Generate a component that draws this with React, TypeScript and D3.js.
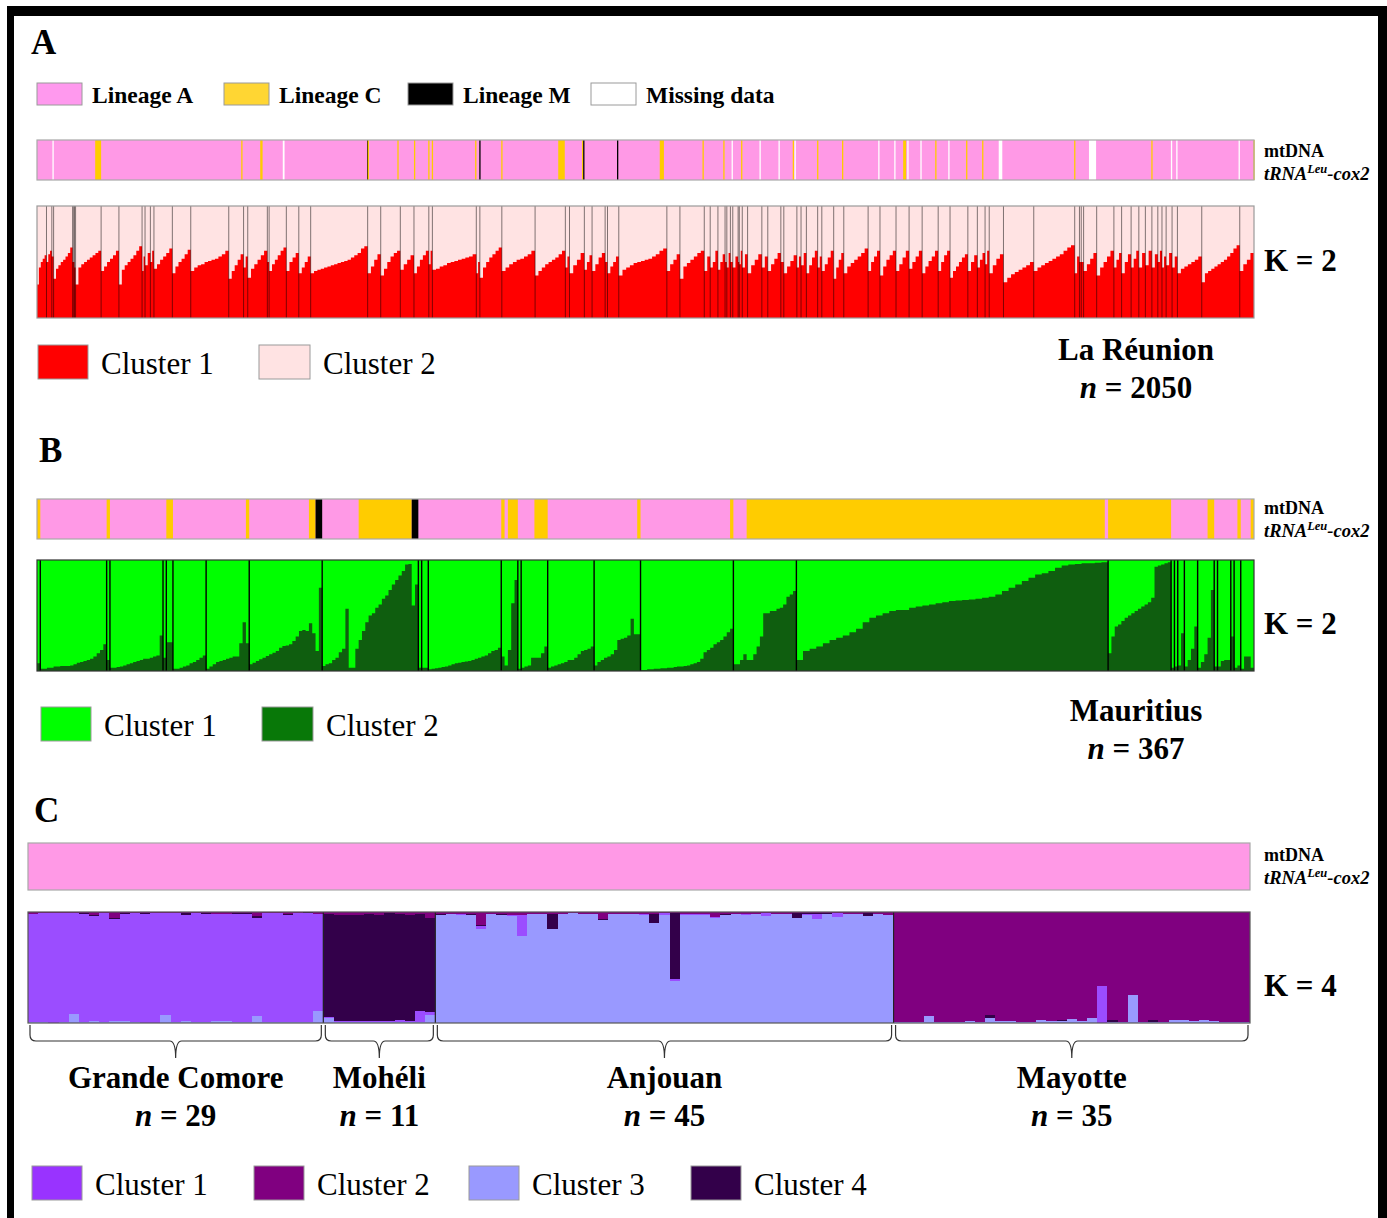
import React from 'react';
import * as d3 from 'd3';

const W = 1387, H = 1218;
const FONT = '"Liberation Serif", "Times New Roman", serif';

// ---------- Legends ----------
const LINEAGE_LABELS = ['Lineage A', 'Lineage C', 'Lineage M', 'Missing data'];
const LINEAGE_SWATCH = ['#FF99EE', '#FFD633', '#000000', '#FFFFFF'];
const MT_COLORS: Record<string, string> = { A: '#FF99E6', C: '#FFCC00', M: '#000000', X: '#FFFFFF' };

// ---------- Panel A : La Réunion (n = 2050) ----------
const A_POP_SIZES = [16, 9, 3, 32, 2, 1, 2, 43, 30, 39, 5, 9, 6, 31, 31, 64, 25, 7, 33, 3, 29, 21, 20, 96, 22, 33, 23, 25, 6, 74, 6, 37, 56, 51, 7, 25, 13, 22, 4, 19, 81, 22, 41, 10, 13, 12, 3, 6, 4, 9, 2, 5, 9, 24, 10, 22, 5, 22, 7, 9, 19, 7, 20, 17, 41, 20, 27, 22, 22, 27, 20, 30, 16, 13, 7, 24, 51, 69, 8, 3, 4, 22, 29, 13, 16, 13, 11, 11, 10, 7, 7, 10, 9, 41, 64, 24];
// Cluster 1 (red) membership, sorted within each sampling site
const A_Q1: number[][] = [
  [0.30, 0.45, 0.5, 0.53, 0.56], [0.5, 0.57, 0.6], [0.55], [0.35, 0.44, 0.47, 0.5, 0.52, 0.55, 0.58, 0.63],
  [0.5], [0.5], [0.45],
  [0.3, 0.45, 0.48, 0.5, 0.52, 0.54, 0.56, 0.58, 0.6], [0.42, 0.46, 0.5, 0.53, 0.56, 0.6], [0.3, 0.43, 0.47, 0.5, 0.53, 0.56, 0.6, 0.64],
  [0.42, 0.55], [0.47, 0.58], [0.5, 0.6], [0.44, 0.48, 0.52, 0.55, 0.58, 0.62], [0.4, 0.46, 0.5, 0.53, 0.57, 0.61],
  [0.42, 0.45, 0.47, 0.48, 0.5, 0.51, 0.52, 0.53, 0.55, 0.57, 0.6], [0.35, 0.42, 0.47, 0.52, 0.57], [0.45, 0.55],
  [0.36, 0.44, 0.48, 0.52, 0.56, 0.6], [0.5], [0.42, 0.48, 0.52, 0.56, 0.6, 0.63], [0.42, 0.5, 0.54, 0.58], [0.4, 0.45, 0.5, 0.55],
  [0.4, 0.42, 0.43, 0.44, 0.45, 0.46, 0.47, 0.48, 0.49, 0.5, 0.51, 0.52, 0.54, 0.56, 0.58, 0.62, 0.64],
  [0.4, 0.46, 0.52, 0.57], [0.38, 0.44, 0.5, 0.55, 0.58, 0.6], [0.43, 0.48, 0.52, 0.56], [0.4, 0.46, 0.52, 0.56, 0.6], [0.48, 0.6],
  [0.43, 0.44, 0.46, 0.47, 0.49, 0.5, 0.51, 0.52, 0.53, 0.54, 0.55, 0.57], [0.4, 0.5], [0.36, 0.45, 0.5, 0.54, 0.57, 0.6, 0.63],
  [0.42, 0.45, 0.48, 0.5, 0.52, 0.53, 0.55, 0.57, 0.6], [0.38, 0.42, 0.45, 0.48, 0.5, 0.52, 0.54, 0.57, 0.6], [0.45, 0.55],
  [0.4, 0.47, 0.52, 0.58], [0.43, 0.5, 0.56], [0.42, 0.48, 0.54, 0.58], [0.5], [0.4, 0.46, 0.5, 0.55],
  [0.38, 0.43, 0.45, 0.47, 0.49, 0.5, 0.51, 0.52, 0.53, 0.55, 0.57, 0.6, 0.62], [0.42, 0.48, 0.52, 0.57],
  [0.35, 0.46, 0.49, 0.52, 0.55, 0.58, 0.6], [0.42, 0.55], [0.45, 0.5, 0.6], [0.43, 0.5, 0.57], [0.5], [0.45, 0.58], [0.5],
  [0.45, 0.55], [0.5], [0.48, 0.6], [0.45, 0.57], [0.4, 0.47, 0.52, 0.57], [0.45, 0.55], [0.42, 0.48, 0.53, 0.58], [0.5],
  [0.4, 0.46, 0.51, 0.56], [0.45, 0.55], [0.47, 0.58], [0.4, 0.47, 0.54, 0.6], [0.45, 0.55], [0.42, 0.48, 0.54, 0.6],
  [0.35, 0.45, 0.52, 0.58], [0.4, 0.46, 0.49, 0.52, 0.55, 0.58, 0.62], [0.42, 0.5, 0.55, 0.6], [0.38, 0.46, 0.52, 0.56, 0.6],
  [0.42, 0.48, 0.54, 0.6], [0.44, 0.5, 0.55, 0.6], [0.4, 0.46, 0.51, 0.55, 0.6], [0.42, 0.5, 0.56, 0.6],
  [0.36, 0.42, 0.46, 0.5, 0.54, 0.57], [0.42, 0.5, 0.56], [0.45, 0.52, 0.58], [0.48, 0.6], [0.4, 0.47, 0.53, 0.57],
  [0.32, 0.36, 0.39, 0.41, 0.43, 0.45, 0.47, 0.5], [0.42, 0.45, 0.47, 0.49, 0.51, 0.53, 0.55, 0.57, 0.6, 0.63, 0.65],
  [0.4, 0.55], [0.5], [0.5], [0.42, 0.48, 0.53, 0.58], [0.38, 0.45, 0.5, 0.55, 0.6], [0.45, 0.52, 0.58], [0.4, 0.5, 0.57],
  [0.45, 0.53, 0.6], [0.45, 0.58], [0.47, 0.6], [0.45, 0.57], [0.5, 0.6], [0.45, 0.55], [0.47, 0.58], [0.45, 0.55],
  [0.4, 0.44, 0.46, 0.48, 0.5, 0.52, 0.55], [0.32, 0.4, 0.42, 0.44, 0.46, 0.48, 0.5, 0.52, 0.55, 0.58, 0.62, 0.65], [0.42, 0.48, 0.52, 0.58],
];
// non-"Lineage A" runs in the mtDNA strip: [first individual, count, lineage]
const A_MT_RUNS: [number, number, string][] = [
  [26, 1, 'X'], [98, 10, 'C'], [344, 1, 'C'], [376, 4, 'C'], [414, 3, 'X'], [556, 1, 'M'], [557, 1, 'C'], [607, 2, 'C'],
  [635, 1, 'C'], [659, 1, 'C'], [665, 1, 'C'], [738, 1, 'C'], [745, 1, 'M'], [782, 1, 'C'], [878, 11, 'C'], [918, 2, 'C'],
  [920, 1, 'M'], [977, 1, 'M'], [1049, 7, 'C'], [1121, 1, 'C'], [1156, 1, 'C'], [1170, 1, 'X'], [1186, 1, 'C'], [1217, 2, 'X'],
  [1249, 2, 'X'], [1273, 2, 'C'], [1276, 1, 'X'], [1314, 1, 'C'], [1356, 1, 'C'], [1417, 2, 'X'], [1444, 2, 'X'], [1459, 5, 'C'],
  [1466, 1, 'X'], [1488, 2, 'X'], [1513, 2, 'C'], [1535, 2, 'X'], [1565, 1, 'C'], [1592, 2, 'C'], [1620, 6, 'X'], [1747, 1, 'C'],
  [1772, 12, 'X'], [1877, 1, 'C'], [1910, 1, 'X'], [1919, 1, 'X'], [2024, 1, 'X'], [2049, 1, 'C'],
];

// ---------- Panel B : Mauritius (n = 367) ----------
const B_POP_SIZES = [1, 20, 1, 16, 1, 2, 10, 13, 22, 29, 1, 2, 22, 5, 1, 8, 14, 14, 28, 19, 94, 19, 1, 1, 2, 4, 5, 1, 4, 1, 2, 4];
// Cluster 2 (dark green) membership
const B_Q2: number[][] = [
  [0.07],
  [0.02, 0.02, 0.03, 0.03, 0.04, 0.04, 0.045, 0.045, 0.045, 0.05, 0.06, 0.075, 0.08, 0.09, 0.1, 0.11, 0.13, 0.16, 0.19, 0.24],
  [0.1],
  [0.03, 0.03, 0.035, 0.04, 0.05, 0.06, 0.07, 0.08, 0.09, 0.1, 0.11, 0.11, 0.12, 0.13, 0.14, 0.32],
  [0.12],
  [0.26, 0.26],
  [0.02, 0.02, 0.03, 0.04, 0.05, 0.07, 0.08, 0.1, 0.12, 0.14],
  [0.02, 0.04, 0.06, 0.08, 0.09, 0.1, 0.11, 0.12, 0.13, 0.13, 0.25, 0.44, 0.25],
  [0.06, 0.075, 0.09, 0.105, 0.12, 0.135, 0.15, 0.165, 0.18, 0.21, 0.225, 0.23, 0.24, 0.27, 0.31, 0.36, 0.37, 0.36, 0.43, 0.34, 0.18, 0.75],
  [0.045, 0.06, 0.07, 0.1, 0.12, 0.17, 0.2, 0.56, 0.03, 0.03, 0.2, 0.28, 0.36, 0.44, 0.5, 0.52, 0.57, 0.6, 0.65, 0.68, 0.73, 0.78, 0.82, 0.86, 0.9, 0.96, 0.965, 0.59, 0.78],
  [0.03],
  [0.03, 0.03],
  [0.015, 0.02, 0.025, 0.03, 0.035, 0.04, 0.05, 0.06, 0.07, 0.075, 0.08, 0.085, 0.09, 0.1, 0.11, 0.12, 0.13, 0.14, 0.16, 0.18, 0.19, 0.21],
  [0.13, 0.05, 0.19, 0.61, 0.82],
  [0.02],
  [0.03, 0.04, 0.05, 0.12, 0.12, 0.12, 0.16, 0.22],
  [0.03, 0.04, 0.05, 0.06, 0.07, 0.08, 0.1, 0.1, 0.12, 0.15, 0.18, 0.19, 0.2, 0.22],
  [0.05, 0.08, 0.1, 0.12, 0.13, 0.15, 0.19, 0.28, 0.29, 0.3, 0.32, 0.47, 0.33, 0.33],
  [0.01, 0.01, 0.015, 0.015, 0.02, 0.02, 0.025, 0.025, 0.03, 0.03, 0.035, 0.04, 0.04, 0.045, 0.05, 0.06, 0.07, 0.08, 0.11, 0.17, 0.19, 0.21, 0.24, 0.26, 0.28, 0.31, 0.35, 0.38],
  [0.06, 0.06, 0.1, 0.15, 0.1, 0.1, 0.15, 0.22, 0.31, 0.52, 0.52, 0.54, 0.54, 0.56, 0.57, 0.6, 0.67, 0.69, 0.72],
  [0.1, 0.18, 0.2, 0.22, 0.25, 0.28, 0.3, 0.32, 0.35, 0.38, 0.44, 0.48, 0.5, 0.52, 0.54, 0.55, 0.55, 0.57, 0.58, 0.59, 0.6, 0.61, 0.62, 0.63, 0.635, 0.64, 0.645, 0.65, 0.66, 0.67, 0.69, 0.72, 0.75, 0.78, 0.81, 0.84, 0.87, 0.88, 0.9, 0.93, 0.95, 0.96, 0.965, 0.97, 0.97, 0.975, 0.98],
  [0.16, 0.31, 0.4, 0.42, 0.45, 0.48, 0.5, 0.52, 0.54, 0.56, 0.58, 0.6, 0.62, 0.66, 0.94, 0.95, 0.96, 0.97, 0.98],
  [0.03], [0.04], [0.05, 0.34], [0.04, 0.1, 0.2, 0.4], [0.03, 0.08, 0.15, 0.3, 0.73], [0.04], [0.04, 0.09, 0.1, 0.1], [0.31], [0.03, 0.05], [0.02, 0.13, 0.13, 0.03],
];
const B_MT_RUNS: [number, number, string][] = [
  [0, 1, 'C'], [21, 1, 'C'], [39, 2, 'C'], [63, 1, 'C'], [82, 2, 'C'], [84, 2, 'M'], [97, 16, 'C'], [113, 2, 'M'],
  [140, 1, 'C'], [142, 3, 'C'], [150, 4, 'C'], [181, 1, 'C'], [209, 1, 'C'], [214, 108, 'C'], [323, 19, 'C'],
  [353, 2, 'C'], [362, 1, 'C'], [366, 1, 'C'],
];

// ---------- Panel C : Comoros (K = 4) ----------
const C_POPS = ['Grande Comore', 'Mohéli', 'Anjouan', 'Mayotte'];
const C_N = [29, 11, 45, 35];
const C_CLUSTER_LABELS = ['Cluster 1', 'Cluster 2', 'Cluster 3', 'Cluster 4'];
const C_SWATCH = ['#9933FF', '#800080', '#9999FF', '#33004A'];
// stacking order bottom -> top : cluster 3, cluster 1, cluster 4, cluster 2
const C_STACK_COLORS = ['#9999FF', '#9B4DFF', '#33004A', '#800080'];
const C_GRANDE_COMORE: number[][] = [
  [0.01, 0.97, 0, 0.02], [0.01, 0.98, 0, 0.01], [0, 0.99, 0, 0.01], [0.01, 0.98, 0, 0.01], [0.08, 0.91, 0, 0.01],
  [0.01, 0.97, 0.01, 0.01], [0.015, 0.95, 0.01, 0.025], [0.01, 0.98, 0, 0.01], [0.02, 0.92, 0.01, 0.05], [0.02, 0.96, 0.01, 0.01],
  [0.01, 0.98, 0, 0.01], [0, 0.98, 0.01, 0.01], [0, 0.99, 0, 0.01], [0.07, 0.92, 0, 0.01], [0.01, 0.98, 0, 0.01],
  [0.015, 0.96, 0.02, 0.005], [0.01, 0.98, 0, 0.01], [0.01, 0.97, 0.01, 0.01], [0.015, 0.97, 0, 0.015], [0.015, 0.97, 0, 0.015],
  [0.01, 0.97, 0.01, 0.01], [0.01, 0.97, 0.01, 0.01], [0.06, 0.89, 0.01, 0.04], [0.01, 0.98, 0, 0.01], [0.01, 0.98, 0, 0.01],
  [0.01, 0.96, 0.01, 0.02], [0.01, 0.98, 0, 0.01], [0.01, 0.98, 0.01, 0], [0.11, 0.87, 0, 0.02],
];
const C_MOHELI: number[][] = [
  [0.045, 0.01, 0.93, 0.015], [0.005, 0.01, 0.96, 0.025], [0.005, 0.01, 0.96, 0.025], [0.005, 0.01, 0.96, 0.025],
  [0.005, 0.01, 0.97, 0.015], [0.005, 0.015, 0.955, 0.025], [0.005, 0.015, 0.97, 0.01], [0.005, 0.02, 0.96, 0.015],
  [0.005, 0.015, 0.95, 0.03], [0.005, 0.1, 0.875, 0.02], [0.075, 0.02, 0.85, 0.055],
];
const C_ANJOUAN: number[][] = [
  [0.97, 0, 0.01, 0.02], [0.98, 0, 0, 0.02], [0.97, 0.01, 0, 0.02], [0.97, 0, 0.01, 0.02], [0.845, 0.025, 0.01, 0.12],
  [0.98, 0, 0, 0.02], [0.975, 0, 0.005, 0.02], [0.965, 0.01, 0, 0.025], [0.785, 0.19, 0, 0.025], [0.98, 0, 0, 0.02],
  [0.985, 0, 0, 0.015], [0.85, 0, 0.135, 0.015], [0.985, 0, 0, 0.015], [0.99, 0, 0, 0.01], [0.985, 0, 0, 0.015],
  [0.985, 0, 0, 0.015], [0.93, 0, 0.005, 0.065], [0.985, 0, 0, 0.015], [0.985, 0, 0, 0.015], [0.985, 0, 0, 0.015],
  [0.975, 0.01, 0, 0.015], [0.9, 0, 0.08, 0.02], [0.975, 0.015, 0, 0.01], [0.38, 0.015, 0.6, 0.005], [0.97, 0.01, 0, 0.02],
  [0.975, 0.005, 0, 0.02], [0.97, 0.01, 0, 0.02], [0.95, 0.005, 0, 0.045], [0.975, 0, 0.005, 0.02], [0.98, 0, 0, 0.02],
  [0.975, 0.005, 0, 0.02], [0.985, 0, 0, 0.015], [0.96, 0.03, 0, 0.01], [0.985, 0, 0, 0.015], [0.985, 0, 0, 0.015],
  [0.95, 0, 0.045, 0.005], [0.975, 0.01, 0.01, 0.005], [0.935, 0.05, 0.01, 0.005], [0.98, 0, 0.01, 0.01], [0.955, 0.035, 0, 0.01],
  [0.985, 0, 0, 0.015], [0.985, 0, 0, 0.015], [0.96, 0, 0.03, 0.01], [0.98, 0, 0, 0.02], [0.975, 0, 0, 0.025],
];
const C_MAYOTTE: number[][] = [
  [0.005, 0, 0, 0.995], [0.01, 0, 0, 0.99], [0.01, 0, 0, 0.99], [0.065, 0, 0, 0.935], [0.01, 0, 0, 0.99],
  [0.005, 0, 0, 0.995], [0.01, 0, 0, 0.99], [0.015, 0, 0, 0.985], [0.01, 0, 0, 0.99], [0.045, 0, 0.03, 0.925],
  [0.02, 0, 0, 0.98], [0.02, 0, 0, 0.98], [0.005, 0, 0, 0.995], [0.01, 0, 0, 0.99], [0.03, 0, 0, 0.97],
  [0.02, 0, 0, 0.98], [0.02, 0, 0.005, 0.975], [0.035, 0, 0, 0.965], [0.015, 0, 0, 0.985], [0.045, 0, 0, 0.955],
  [0, 0.33, 0, 0.67], [0.01, 0, 0.02, 0.97], [0.005, 0, 0, 0.995], [0.255, 0, 0, 0.745], [0.005, 0, 0, 0.995],
  [0.01, 0, 0.02, 0.97], [0.01, 0, 0, 0.99], [0.025, 0, 0, 0.975], [0.025, 0, 0, 0.975], [0.02, 0, 0, 0.98],
  [0.025, 0, 0, 0.975], [0.02, 0, 0, 0.98], [0.005, 0, 0, 0.995], [0.01, 0, 0, 0.99], [0.01, 0, 0, 0.99],
];
const C_Q = [C_GRANDE_COMORE, C_MOHELI, C_ANJOUAN, C_MAYOTTE];
const C_BASE = ['#9B4DFF', '#33004A', '#9999FF', '#800080'];

// ---------- Components ----------
function MtBar({ x0, x1, y0, y1, total, runs, k }: any) {
  const x = d3.scaleLinear().domain([0, total]).range([x0, x1]);
  return (
    <g>
      <rect x={x0} y={y0} width={x1 - x0} height={y1 - y0} fill={MT_COLORS.A} />
      {runs.map((r: [number, number, string], i: number) => {
        const w = Math.max(1.3, x(r[0] + r[1]) - x(r[0]));
        return <rect key={k + i} x={x(r[0])} y={y0} width={w} height={y1 - y0} fill={MT_COLORS[r[2]]} />;
      })}
      <rect x={x0} y={y0} width={x1 - x0} height={y1 - y0} fill="none" stroke="#A8A8A8" strokeWidth={1.2} />
    </g>
  );
}

// path tracing the top of a step bar chart (no seams between neighbours)
function stepPath(xs: number[], ys: number[], yBase: number) {
  let d = `M${xs[0]},${yBase}`;
  for (let i = 0; i < ys.length; i++) {
    d += ` L${xs[i]},${ys[i]} L${xs[i + 1]},${ys[i]}`;
  }
  d += ` L${xs[xs.length - 1]},${yBase} Z`;
  return d;
}

function Admix2({ x0, x1, y0, y1, sizes, q, bottom, top, sep, sepW, sepOp, border, k }: any) {
  const total = d3.sum(sizes as number[]);
  const x = d3.scaleLinear().domain([0, total]).range([x0, x1]);
  const y = d3.scaleLinear().domain([0, 1]).range([y1, y0]);
  const starts = [0, ...Array.from(d3.cumsum(sizes as number[]))];
  const xs: number[] = [];
  const ys: number[] = [];
  (sizes as number[]).forEach((n, i) => {
    const vals = q[i] as number[];
    vals.forEach((v, j) => {
      xs.push(x(starts[i] + (j * n) / vals.length));
      ys.push(y(v));
    });
  });
  xs.push(x(total));
  return (
    <g>
      <rect x={x0} y={y0} width={x1 - x0} height={y1 - y0} fill={top} />
      <path d={stepPath(xs, ys, y1)} fill={bottom} />
      {starts.slice(1, -1).map((s, i) => (
        <line key={`${k}s${i}`} x1={x(s)} x2={x(s)} y1={y0} y2={y1} stroke={sep} strokeWidth={sepW} strokeOpacity={sepOp} />
      ))}
      <rect x={x0} y={y0} width={x1 - x0} height={y1 - y0} fill="none" stroke={border} strokeWidth={1.2} />
    </g>
  );
}

function Admix4({ x0, x1, y0, y1 }: any) {
  const total = d3.sum(C_N);
  const x = d3.scaleLinear().domain([0, total]).range([x0, x1]);
  const y = d3.scaleLinear().domain([0, 1]).range([y1, y0]);
  const starts = [0, ...Array.from(d3.cumsum(C_N))];
  const rects: any[] = [];
  C_Q.forEach((pop, p) => {
    rects.push(<rect key={`cb${p}`} x={x(starts[p])} width={x(starts[p + 1]) - x(starts[p])} y={y0} height={y1 - y0} fill={C_BASE[p]} />);
    pop.forEach((ind, i) => {
      const idx = starts[p] + i;
      let acc = 0;
      ind.forEach((v, c) => {
        if (v <= 0) return;
        const lo = acc, hi = c === ind.length - 1 ? 1 : acc + v;
        acc += v;
        if (C_STACK_COLORS[c] === C_BASE[p]) return;
        rects.push(
          <rect key={`c${p}_${i}_${c}`} x={x(idx)} width={x(idx + 1) - x(idx)} y={y(hi)} height={y(lo) - y(hi)} fill={C_STACK_COLORS[c]} />
        );
      });
    });
  });
  return (
    <g>
      <g shapeRendering="crispEdges">{rects}</g>
      {starts.slice(1, -1).map((s, i) => (
        <line key={`cs${i}`} x1={x(s)} x2={x(s)} y1={y0} y2={y1} stroke="#222" strokeWidth={1.2} />
      ))}
      <rect x={x0} y={y0} width={x1 - x0} height={y1 - y0} fill="none" stroke="#555" strokeWidth={1.2} />
    </g>
  );
}

function MtLabel({ x, y }: any) {
  return (
    <g fontFamily={FONT} fontWeight="bold" fill="#000">
      <text x={x} y={y} fontSize={18}>mtDNA</text>
      <text x={x} y={y + 23} fontSize={18.5} fontStyle="italic">
        tRNA<tspan fontSize={12.5} dy={-7}>Leu</tspan><tspan dy={7}>-cox2</tspan>
      </text>
    </g>
  );
}

function NLabel({ cx, y, name, n }: any) {
  return (
    <g fontFamily={FONT} fontWeight="bold" fontSize={31} textAnchor="middle" fill="#000">
      <text x={cx} y={y}>{name}</text>
      <text x={cx} y={y + 38}><tspan fontStyle="italic">n</tspan> = {n}</text>
    </g>
  );
}

function Swatch({ x, y, w, h, fill, label, fs, bold, tx }: any) {
  return (
    <g>
      <rect x={x} y={y} width={w} height={h} fill={fill} stroke="#9a9a9a" strokeWidth={1} />
      <text x={tx} y={y + h - (bold ? 2 : 5)} fontFamily={FONT} fontSize={fs} fontWeight={bold ? 'bold' : 'normal'} fill="#000">{label}</text>
    </g>
  );
}

export default function App() {
  const cx = d3.scaleLinear().domain([0, d3.sum(C_N)]).range([28, 1250]);
  const cStarts = [0, ...Array.from(d3.cumsum(C_N))];
  const lineageX = [37, 224, 408, 591];
  const cLegendX = [32, 254, 469, 691];
  return (
    <svg width={W} height={H} style={{ position: 'absolute', left: 0, top: 0, background: '#fff' }}>
      <rect x={0} y={0} width={W} height={H} fill="#fff" />
      {/* frame */}
      <rect x={7} y={6} width={1380} height={10} fill="#000" />
      <rect x={7} y={6} width={7} height={1212} fill="#000" />
      <rect x={1378} y={6} width={9} height={1212} fill="#000" />

      {/* ---------- Panel A ---------- */}
      <text x={31} y={54} fontFamily={FONT} fontWeight="bold" fontSize={35}>A</text>
      {LINEAGE_LABELS.map((l, i) => (
        <Swatch key={l} x={lineageX[i]} y={83} w={45} h={22} fill={LINEAGE_SWATCH[i]} label={l} fs={23.5} bold tx={lineageX[i] + 55} />
      ))}
      <MtBar x0={37} x1={1254} y0={140} y1={180} total={2050} runs={A_MT_RUNS} k="a" />
      <MtLabel x={1264} y={157} />
      <Admix2 x0={37} x1={1254} y0={206} y1={318} sizes={A_POP_SIZES} q={A_Q1} bottom="#FF0000" top="#FFE3E3" sep="#000" sepW={1} sepOp={0.5} border="#9a9a9a" k="A" />
      <text x={1264} y={271} fontFamily={FONT} fontWeight="bold" fontSize={31}>K = 2</text>
      <Swatch x={38} y={345} w={50} h={34} fill="#FF0000" label="Cluster 1" fs={31} tx={101} />
      <Swatch x={259} y={345} w={51} h={34} fill="#FFE3E3" label="Cluster 2" fs={31} tx={323} />
      <NLabel cx={1136} y={360} name="La Réunion" n={2050} />

      {/* ---------- Panel B ---------- */}
      <text x={39} y={462} fontFamily={FONT} fontWeight="bold" fontSize={35}>B</text>
      <MtBar x0={37} x1={1254} y0={499} y1={539} total={367} runs={B_MT_RUNS} k="b" />
      <MtLabel x={1264} y={514} />
      <Admix2 x0={37} x1={1254} y0={560} y1={671} sizes={B_POP_SIZES} q={B_Q2} bottom="#0F5E0F" top="#00FF00" sep="#000" sepW={1.4} sepOp={1} border="#333" k="B" />
      <text x={1264} y={634} fontFamily={FONT} fontWeight="bold" fontSize={31}>K = 2</text>
      <Swatch x={41} y={707} w={50} h={34} fill="#00FF00" label="Cluster 1" fs={31} tx={104} />
      <Swatch x={262} y={707} w={51} h={34} fill="#087808" label="Cluster 2" fs={31} tx={326} />
      <NLabel cx={1136} y={721} name="Mauritius" n={367} />

      {/* ---------- Panel C ---------- */}
      <text x={34} y={822} fontFamily={FONT} fontWeight="bold" fontSize={35}>C</text>
      <MtBar x0={28} x1={1250} y0={843} y1={890} total={120} runs={[]} k="c" />
      <MtLabel x={1264} y={861} />
      <Admix4 x0={28} x1={1250} y0={912} y1={1023} />
      <text x={1264} y={996} fontFamily={FONT} fontWeight="bold" fontSize={31}>K = 4</text>
      {C_POPS.map((p, i) => {
        const a = cx(cStarts[i]) + 2, b = cx(cStarts[i + 1]) - 2, m = (a + b) / 2;
        const y0 = 1025, ym = 1041, y1 = 1058, r = 6;
        const d = `M${a},${y0} L${a},${ym - r} Q${a},${ym} ${a + r},${ym} L${m - r},${ym} Q${m},${ym} ${m},${y1} Q${m},${ym} ${m + r},${ym} L${b - r},${ym} Q${b},${ym} ${b},${ym - r} L${b},${y0}`;
        return (
          <g key={p}>
            <path d={d} fill="none" stroke="#333" strokeWidth={1.2} />
            <NLabel cx={m} y={1088} name={p} n={C_N[i]} />
          </g>
        );
      })}
      {C_CLUSTER_LABELS.map((l, i) => (
        <Swatch key={l} x={cLegendX[i]} y={1166} w={50} h={34} fill={C_SWATCH[i]} label={l} fs={31} tx={cLegendX[i] + 63} />
      ))}
    </svg>
  );
}
